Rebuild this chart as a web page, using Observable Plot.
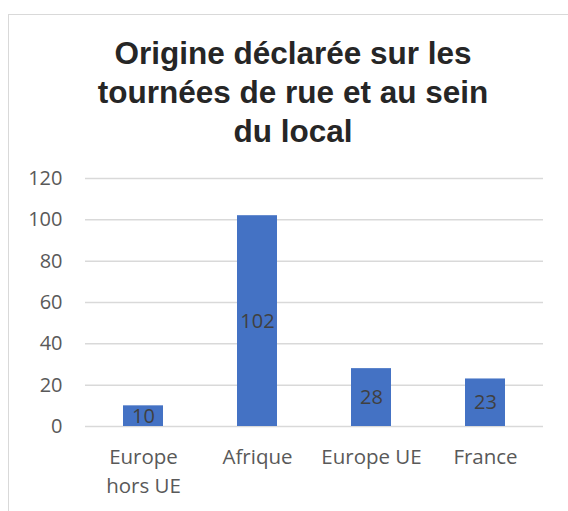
<!DOCTYPE html>
<html>
<head>
<meta charset="utf-8">
<script src="https://cdn.jsdelivr.net/npm/d3@7"></script>
<script src="https://cdn.jsdelivr.net/npm/@observablehq/plot@0.6"></script>
<style>
  html, body { margin: 0; padding: 0; background: #fff; }
  #wrap { position: relative; width: 568px; height: 511px; overflow: hidden; }
  #frame { position: absolute; left: 8px; top: 14px; width: 600px; height: 600px;
           border-left: 1.5px solid #d9d9d9; border-top: 1.5px solid #d9d9d9; box-sizing: border-box; }
  #title { position: absolute; left: 15px; width: 556px; top: 34px; text-align: center;
           font-family: "Liberation Sans", Arial, sans-serif; font-weight: bold; font-size: 31.5px;
           line-height: 39px; color: #262626; }
  #chart { position: absolute; left: 0; top: 150px; }
</style>
</head>
<body>
<div id="wrap">
  <div id="frame"></div>
  <div id="title">Origine déclarée sur les<br>tournées de rue et au sein<br>du local</div>
  <div id="chart"></div>
</div>
<script>
const categories = ["Europe hors UE", "Afrique", "Europe UE", "France"];
const tickLabels = ["Europe\nhors UE", "Afrique", "Europe UE", "France"];
const values = [10, 102, 28, 23];
const yTicks = [0, 20, 40, 60, 80, 100, 120];

const data = categories.map((c, i) => ({cat: c, value: values[i]}));
const labelOf = new Map(categories.map((c, i) => [c, tickLabels[i]]));

const chart = Plot.plot({
  width: 568,
  height: 361,
  marginLeft: 85,
  marginRight: 25,
  marginTop: 28,
  marginBottom: 85,
  style: {fontFamily: "'Open Sans', sans-serif", background: "transparent"},
  x: {domain: categories, paddingInner: 0.646, paddingOuter: 0.323, label: null},
  y: {domain: [0, 120], label: null},
  marks: [
    Plot.ruleY(yTicks, {stroke: "#d9d9d9", strokeWidth: 1.5}),
    Plot.barY(data, {x: "cat", y: "value", fill: "#4472C4"}),
    Plot.text(data, {x: "cat", y: d => d.value / 2, text: d => String(d.value),
                     fill: "#404040", fontSize: 20}),
    Plot.axisY({ticks: yTicks, tickSize: 0, tickPadding: 23, fontSize: 20, fill: "#595959", label: null}),
    Plot.axisX({tickSize: 0, tickPadding: 17, fontSize: 20.5, fill: "#595959", lineHeight: 1.4,
                tickFormat: d => labelOf.get(d), label: null})
  ]
});
document.getElementById("chart").appendChild(chart);
</script>
</body>
</html>
